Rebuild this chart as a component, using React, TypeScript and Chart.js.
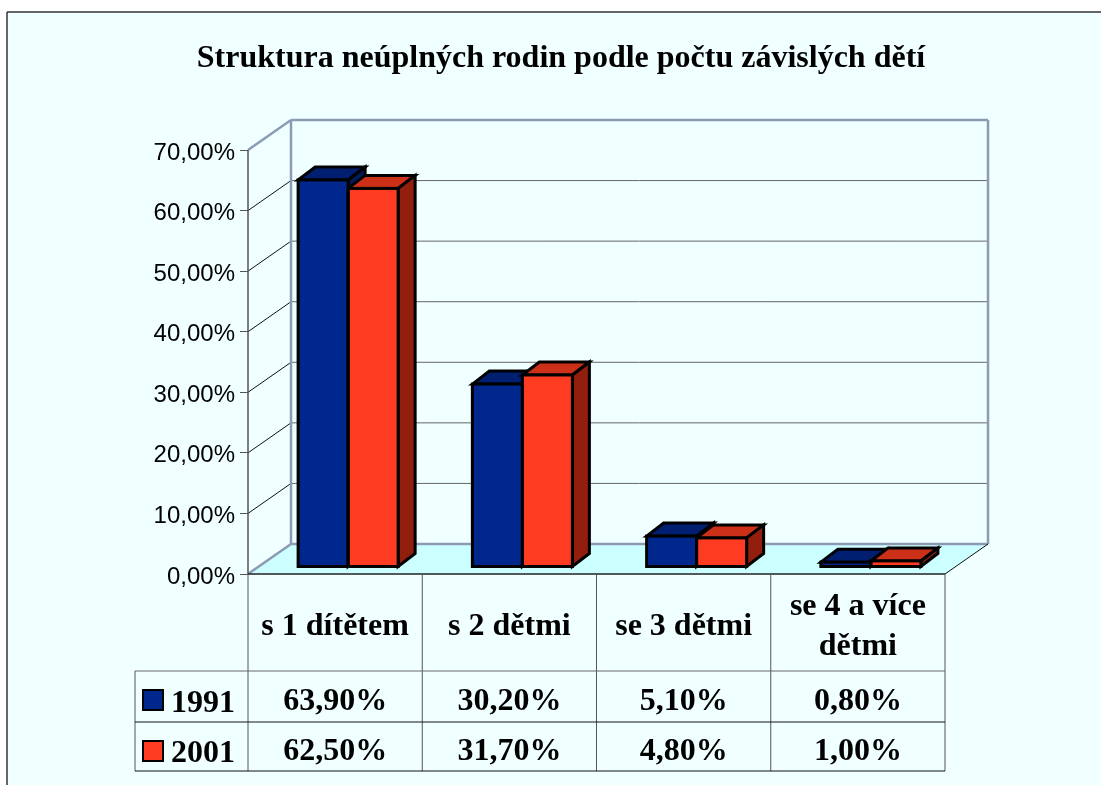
import React, { useEffect, useRef } from "react";
import { Chart, registerables } from "chart.js";

Chart.register(...registerables);

const titleText = "Struktura neúplných rodin podle počtu závislých dětí";
const categories = ["s 1 dítětem", "s 2 dětmi", "se 3 dětmi", ["se 4 a více", "dětmi"]];
const years = ["1991", "2001"];
const values1991 = [63.9, 30.2, 5.1, 0.8];
const values2001 = [62.5, 31.7, 4.8, 1.0];

const SERIF = "'Liberation Serif', serif";
const SANS = "'Liberation Sans', sans-serif";
const PAGE = "#F0FFFF";
const FLOOR = "#CCFFFF";
const WALL = "#8C9BB4";
const faces = [
  { front: "#00288C", top: "#001F70", side: "#001A5C" },
  { front: "#FF3C22", top: "#CC3018", side: "#921E0E" },
];
const fmt = (v: number) => v.toFixed(2).replace(".", ",") + "%";

const DEPTH_X = 43;
const DEPTH_Y = -30;
const BAR_SHIFT_X = 13;
const BAR_SHIFT_Y = -7;
const BAR_DX = 17;
const BAR_DY = -13;
const BAR_STROKE = 3;
const TABLE_LEFT = 135;
const ROW_LINES = [671, 722, 771];
const YEAR_BASELINES = [712, 762];
const VALUE_BASELINES = [710, 760];
const SWATCH_TOPS = [690, 741];

const line = (ctx: any, x1: number, y1: number, x2: number, y2: number, color: string, w: number) => {
  ctx.strokeStyle = color;
  ctx.lineWidth = w;
  ctx.beginPath();
  ctx.moveTo(x1, y1);
  ctx.lineTo(x2, y2);
  ctx.stroke();
};
const poly = (ctx: any, pts: number[][], fill: string, lw: number) => {
  ctx.beginPath();
  pts.forEach((p, i) => (i ? ctx.lineTo(p[0], p[1]) : ctx.moveTo(p[0], p[1])));
  ctx.closePath();
  ctx.fillStyle = fill;
  ctx.fill();
  if (lw) {
    ctx.strokeStyle = "#000";
    ctx.lineWidth = lw;
    ctx.lineJoin = "miter";
    ctx.stroke();
  }
};

const scene = {
  id: "scene",
  beforeDraw(chart: any) {
    const ctx = chart.ctx;
    ctx.save();
    ctx.fillStyle = "#FFFFFF";
    ctx.fillRect(0, 0, chart.width, chart.height);
    ctx.fillStyle = PAGE;
    ctx.fillRect(7, 12, chart.width - 7, chart.height - 12);
    line(ctx, 7, 12, chart.width, 12, "#333", 1.5);
    line(ctx, 7, 12, 7, chart.height, "#333", 1.5);
    ctx.restore();
    // nudge the value-axis labels down onto their tick marks
    chart.scales.y.getLabelItems().forEach((it: any) => {
      it.textOffset += 3;
    });
  },
  beforeDatasetsDraw(chart: any) {
    const ctx = chart.ctx;
    const { left, right, top, bottom } = chart.chartArea;
    const y = chart.scales.y;
    const x = chart.scales.x;
    ctx.save();
    poly(ctx, [[left, bottom], [right, bottom], [right + DEPTH_X, bottom + DEPTH_Y], [left + DEPTH_X, bottom + DEPTH_Y]], FLOOR, 0);
    // grid on back wall and side wall, from the y scale
    y.ticks.forEach((t: any) => {
      const py = y.getPixelForValue(t.value);
      if (t.value > 0 && t.value < 70) {
        line(ctx, left + DEPTH_X, py + DEPTH_Y, right + DEPTH_X, py + DEPTH_Y, "#666", 1);
        line(ctx, left, py, left + DEPTH_X, py + DEPTH_Y, "#111", 1);
      }
    });
    // walls outline
    line(ctx, left, top, left + DEPTH_X, top + DEPTH_Y, WALL, 2.5);
    line(ctx, left + DEPTH_X, top + DEPTH_Y, right + DEPTH_X, top + DEPTH_Y, WALL, 2.5);
    line(ctx, left + DEPTH_X, top + DEPTH_Y, left + DEPTH_X, bottom + DEPTH_Y, WALL, 2.5);
    line(ctx, right + DEPTH_X, top + DEPTH_Y, right + DEPTH_X, bottom + DEPTH_Y, WALL, 2.5);
    line(ctx, left + DEPTH_X, bottom + DEPTH_Y, right + DEPTH_X, bottom + DEPTH_Y, WALL, 2.5);
    line(ctx, left, bottom, left + DEPTH_X, bottom + DEPTH_Y, WALL, 2.5);
    line(ctx, right, bottom, right + DEPTH_X, bottom + DEPTH_Y, "#111", 1);
    line(ctx, left, top, left, bottom, "#555", 1.5);
    line(ctx, left, bottom, right, bottom, "#222", 1.5);

    // data table
    const colEdges = [left, ...x.ticks.map((_: any, i: number) => x.getPixelForValue(i) + (x.getPixelForValue(1) - x.getPixelForValue(0)) / 2)];
    colEdges.forEach((cx: number) => line(ctx, cx, bottom, cx, ROW_LINES[2], "#555", 1));
    line(ctx, TABLE_LEFT, ROW_LINES[0], TABLE_LEFT, ROW_LINES[2], "#555", 1);
    line(ctx, TABLE_LEFT, ROW_LINES[0], right, ROW_LINES[0], "#666", 1);
    line(ctx, TABLE_LEFT, ROW_LINES[1], right, ROW_LINES[1], "#111", 1);
    line(ctx, TABLE_LEFT, ROW_LINES[2], right, ROW_LINES[2], "#111", 1);
    ctx.font = `bold 32px ${SERIF}`;
    ctx.textBaseline = "alphabetic";
    chart.data.datasets.forEach((ds: any, d: number) => {
      ctx.textAlign = "left";
      ctx.fillStyle = "#000";
      ctx.fillText(years[d], 171, YEAR_BASELINES[d]);
      ctx.textAlign = "center";
      ds.data.forEach((v: number, i: number) => ctx.fillText(fmt(v), x.getPixelForValue(i), VALUE_BASELINES[d]));
      ctx.fillStyle = faces[d].front;
      ctx.strokeStyle = "#000";
      ctx.lineWidth = 2;
      ctx.fillRect(143, SWATCH_TOPS[d], 20, 20);
      ctx.strokeRect(143, SWATCH_TOPS[d], 20, 20);
    });

    // depth faces of the bars
    ctx.translate(BAR_SHIFT_X, BAR_SHIFT_Y);
    chart.data.datasets.forEach((_: any, d: number) => {
      chart.getDatasetMeta(d).data.forEach((b: any) => {
        const l = b.x - b.width / 2;
        const r = b.x + b.width / 2;
        poly(ctx, [[l, b.y], [l + BAR_DX, b.y + BAR_DY], [r + BAR_DX, b.y + BAR_DY], [r, b.y]], faces[d].top, BAR_STROKE);
        poly(ctx, [[r, b.y], [r + BAR_DX, b.y + BAR_DY], [r + BAR_DX, b.base + BAR_DY], [r, b.base]], faces[d].side, BAR_STROKE);
      });
    });
    ctx.restore();
    ctx.save();
    ctx.translate(BAR_SHIFT_X, BAR_SHIFT_Y);
  },
  afterDatasetsDraw(chart: any) {
    const ctx = chart.ctx;
    ctx.strokeStyle = "#000";
    ctx.lineWidth = BAR_STROKE;
    chart.data.datasets.forEach((_: any, d: number) => {
      chart.getDatasetMeta(d).data.forEach((b: any) => {
        ctx.strokeRect(b.x - b.width / 2, b.y, b.width, b.base - b.y);
      });
    });
    ctx.restore();
  },
};

export default function App() {
  const ref = useRef<HTMLCanvasElement>(null);
  useEffect(() => {
    const chart = new Chart(ref.current as HTMLCanvasElement, {
      type: "bar",
      data: {
        labels: categories as any,
        datasets: [
          { label: years[0], data: values1991, backgroundColor: faces[0].front, borderWidth: 0, clip: false as any },
          { label: years[1], data: values2001, backgroundColor: faces[1].front, borderWidth: 0, clip: false as any },
        ],
      },
      options: {
        responsive: false,
        animation: false,
        layout: { padding: { left: 21, right: 0, top: 0, bottom: 0 } },
        datasets: { bar: { categoryPercentage: 0.574, barPercentage: 1 } },
        plugins: {
          legend: { display: false },
          tooltip: { enabled: false },
          title: {
            display: true,
            text: titleText,
            color: "#000",
            font: { family: SERIF, size: 32, weight: "bold", lineHeight: 1.2 },
            padding: { top: 40, bottom: 71.6 },
          },
        },
        scales: {
          x: {
            grid: { display: false, drawTicks: false },
            border: { display: false },
            ticks: {
              color: "#000",
              font: { family: SERIF, size: 32, weight: "bold", lineHeight: 1.25 },
              maxRotation: 0,
              autoSkip: false,
              crossAlign: "center",
              padding: 33,
            },
            afterFit: (s: any) => { s.height = 211; },
          },
          y: {
            min: 0,
            max: 70,
            grid: { drawOnChartArea: false, tickLength: 8, color: "#555" },
            border: { display: false },
            ticks: {
              stepSize: 10,
              color: "#000",
              font: { family: SANS, size: 24 },
              padding: 5,
              callback: (v: any) => fmt(Number(v)),
            },
            afterFit: (s: any) => { s.width = 227; },
          },
          yr: {
            axis: "y",
            position: "right",
            grid: { display: false },
            border: { display: false },
            ticks: { display: false },
            afterFit: (s: any) => { s.width = 156; },
          },
        } as any,
      },
      plugins: [scene],
    } as any);
    return () => chart.destroy();
  }, []);
  return (
    <div style={{ position: "absolute", left: 0, top: 0, width: 1101, height: 785, overflow: "hidden" }}>
      <canvas ref={ref} width={1101} height={785} style={{ display: "block" }} />
    </div>
  );
}
